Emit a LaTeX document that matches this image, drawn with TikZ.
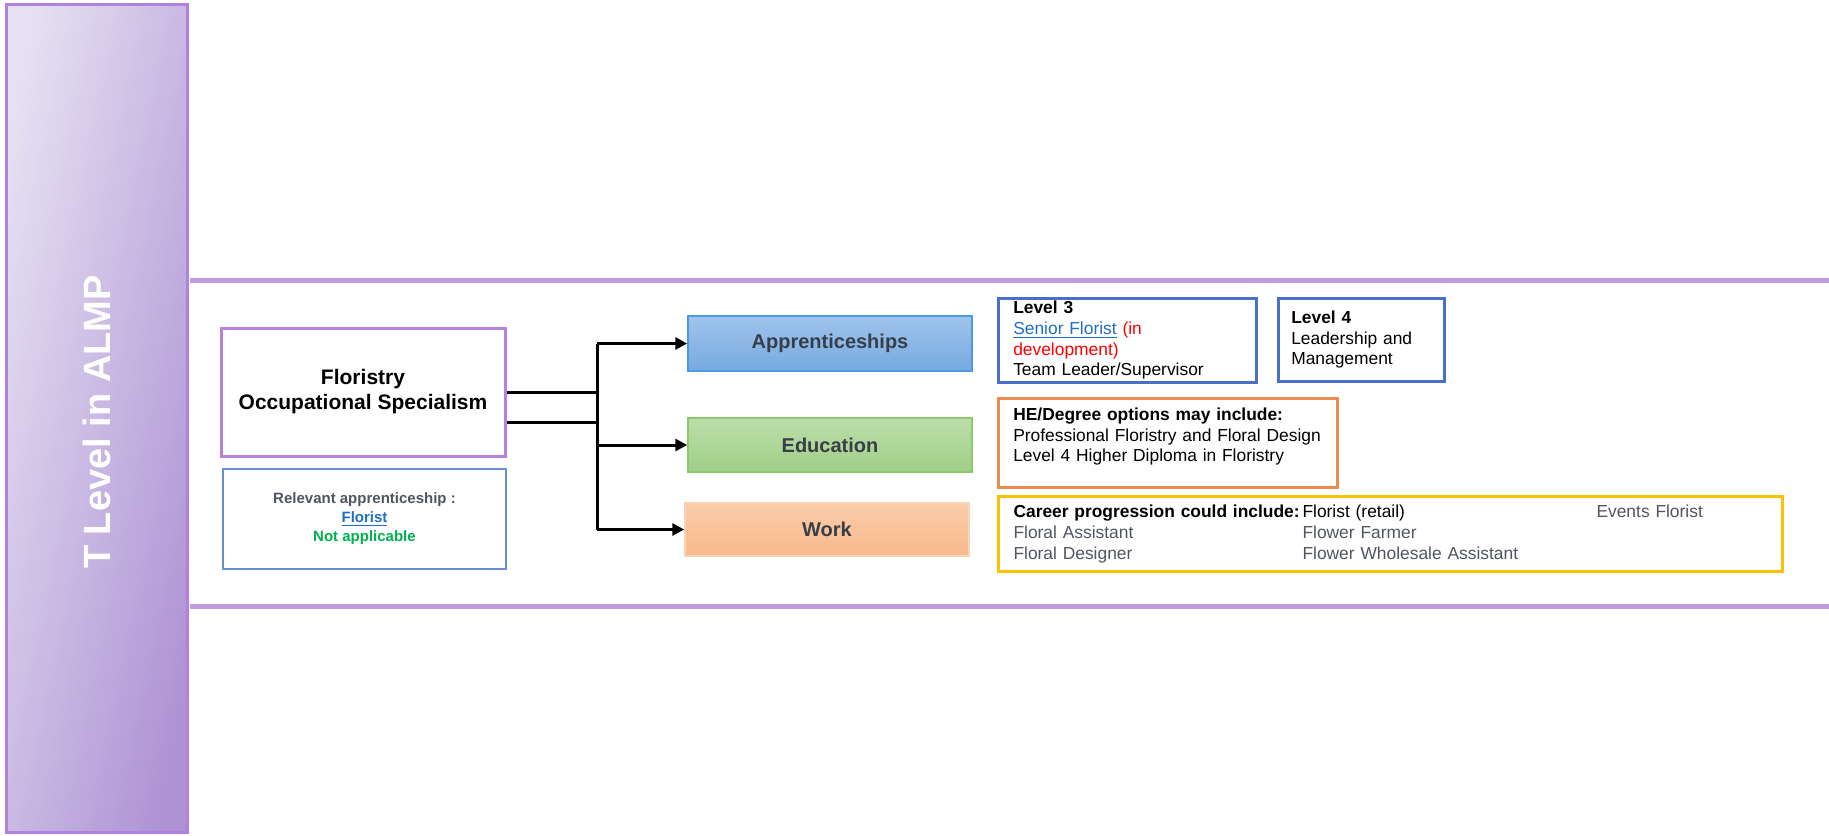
\documentclass[tikz,border=0pt]{standalone}
\usepackage{fontspec}
\setmainfont{Liberation Sans}
\usepackage{xcolor}
\usetikzlibrary{arrows.meta,positioning}

\definecolor{panelLight}{RGB}{230,225,242}
\definecolor{panelDark}{RGB}{174,146,212}
\definecolor{panelEdge}{RGB}{178,128,222}
\definecolor{bandLine}{RGB}{192,155,225}
\definecolor{specEdge}{RGB}{182,130,222}
\definecolor{relEdge}{RGB}{105,145,210}
\definecolor{apprTop}{RGB}{160,196,236}
\definecolor{apprBot}{RGB}{118,170,224}
\definecolor{apprEdge}{RGB}{75,155,222}
\definecolor{eduTop}{RGB}{188,222,170}
\definecolor{eduBot}{RGB}{160,206,135}
\definecolor{eduEdge}{RGB}{140,200,110}
\definecolor{workTop}{RGB}{250,204,170}
\definecolor{workBot}{RGB}{248,186,140}
\definecolor{workEdge}{RGB}{250,212,180}
\definecolor{lvlEdge}{RGB}{72,112,200}
\definecolor{heEdge}{RGB}{237,140,80}
\definecolor{careerEdge}{RGB}{255,192,0}
\definecolor{linkBlue}{RGB}{31,111,197}
\definecolor{devRed}{RGB}{255,0,0}
\definecolor{naGreen}{RGB}{0,176,80}
\definecolor{textGray}{RGB}{80,85,95}
\definecolor{routeText}{RGB}{55,62,72}

\tikzset{
  routebox/.style={draw, line width=0.75pt, minimum width=142pt, text=routeText, font=\fontsize{10}{12}\selectfont\bfseries},
  infobox/.style={draw, line width=1.25pt, anchor=north west, align=left, inner xsep=7.5pt, inner ysep=0pt, font=\fontsize{8.7}{10.35}\selectfont},
  branch/.style={line width=1.5pt},
  brancharrow/.style={branch, -{Triangle[length=6pt,width=6pt]}},
}

\begin{document}
\begin{tikzpicture}[x=0.5pt,y=-0.5pt]
\useasboundingbox (0,0) rectangle (1829,835);

%Shape: side panel
\shadedraw[draw=panelEdge, line width=1.5pt, top color=panelLight, bottom color=panelDark, shading angle=78] (6,4) rectangle (187,832);
\node[rotate=90, text=white, font=\fontsize{19}{22}\selectfont\bfseries] (panel) at (97,422) {T Level in ALMP};

%Straight Lines: band
\draw[bandLine, line width=2.5pt] (190,280) -- (1829,280);
\draw[bandLine, line width=2.5pt] (190,606) -- (1829,606);

% Text Node
\node[draw=specEdge, line width=1.5pt, minimum width=142pt, minimum height=64pt, align=center, font=\fontsize{10.5}{12.5}\selectfont\bfseries] (spec) at (363,392) {Floristry\\Occupational Specialism};
% Text Node
\node[draw=relEdge, line width=1pt, minimum width=141.5pt, minimum height=50pt, align=center, text=textGray, font=\fontsize{7.5}{9.5}\selectfont\bfseries] (rel) at (364.5,519) {Relevant apprenticeship :\\\textcolor{linkBlue}{\underline{Florist}}\\\textcolor{naGreen}{Not applicable}};

% Route boxes
\node[routebox, draw=apprEdge, top color=apprTop, bottom color=apprBot, minimum height=27.5pt] (appr) at (830,343.5) {Apprenticeships};
\node[routebox, draw=eduEdge, top color=eduTop, bottom color=eduBot, minimum height=27pt] (edu) at (830,445) {Education};
\node[routebox, draw=workEdge, top color=workTop, bottom color=workBot, minimum height=26.5pt] (work) at (827,529.5) {Work};

%Straight Lines: branches
\coordinate (trunk) at (597,392);
\coordinate (specLow) at ([yshift=-15pt]spec.east);
\draw[branch] (spec.east) -- (spec.east -| trunk);
\draw[branch] (specLow) -- (specLow -| trunk);
\draw[branch] (appr.west -| trunk) -- (work.west -| trunk);
\draw[brancharrow] (appr.west -| trunk) -- (appr.west);
\draw[brancharrow] (edu.west -| trunk) -- (edu.west);
\draw[brancharrow] (work.west -| trunk) -- (work.west);

% Info boxes
\node[infobox, draw=lvlEdge, text width=114pt, minimum height=42pt] (lvl3) at (997,297) {\textbf{Level 3}\\\textcolor{linkBlue}{\underline{Senior Florist}} \textcolor{devRed}{(in}\\\textcolor{devRed}{development)}\\Team Leader/Supervisor};
\node[infobox, draw=lvlEdge, inner xsep=6.5pt, text width=70pt, minimum height=41.5pt] (lvl4) at (1277,297) {\textbf{Level 4}\\Leadership and\\Management};
\node[infobox, draw=heEdge, text width=154.5pt, minimum height=44.5pt, text depth=28.5pt] (he) at (997,397) {\textbf{HE/Degree options may include:}\\Professional Floristry and Floral Design\\Level 4 Higher Diploma in Floristry};
\node[infobox, draw=careerEdge, line width=1.5pt, text width=377pt, minimum height=37.5pt] (career) at (997,495) {\makebox[144.5pt][l]{\textbf{Career progression could include:}}\makebox[147pt][l]{Florist (retail)}\textcolor{textGray}{Events Florist}\\\textcolor{textGray}{\makebox[144.5pt][l]{Floral Assistant}Flower Farmer}\\\textcolor{textGray}{\makebox[144.5pt][l]{Floral Designer}Flower Wholesale Assistant}};

\end{tikzpicture}
\end{document}
